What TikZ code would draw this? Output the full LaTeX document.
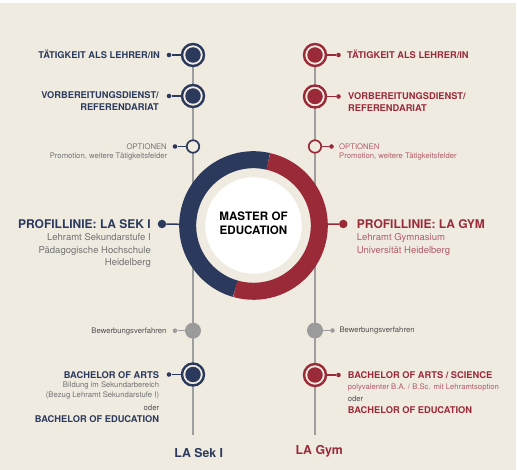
\documentclass[tikz,border=0pt]{standalone}
\usepackage{fontspec}
\setmainfont{TeX Gyre Heros}
\definecolor{beige}{RGB}{240,235,225}
\definecolor{sekblue}{RGB}{43,58,92}
\definecolor{gymred}{RGB}{155,42,57}
\definecolor{linegray}{RGB}{158,158,158}
\definecolor{dotgray}{RGB}{155,155,155}
\definecolor{textgray}{RGB}{115,115,115}
\definecolor{darkgray}{RGB}{80,80,80}
\definecolor{redlight}{RGB}{178,92,106}
\begin{document}
\begin{tikzpicture}[x=1pt,y=-1pt,
  ring/.style={circle, draw=#1, line width=2.4pt, fill=beige, minimum size=22pt, inner sep=0pt},
  core/.style={circle, fill=#1, minimum size=15.5pt, inner sep=0pt},
  opencirc/.style={circle, draw=#1, line width=1.7pt, fill=beige, minimum size=12.5pt, inner sep=0pt},
  graycirc/.style={circle, fill=dotgray, minimum size=16pt, inner sep=0pt},
  sdot/.style={circle, fill=#1, minimum size=4.6pt, inner sep=0pt},
  pdot/.style={circle, fill=#1, minimum size=8.5pt, inner sep=0pt},
  conn/.style={draw=#1, line width=1.5pt},
  vline/.style={draw=linegray, line width=1.6pt},
  ttl/.style={font=\fontsize{9.3}{11}\selectfont\bfseries, inner sep=0pt, text=#1},
  big/.style={font=\fontsize{12}{14}\selectfont\bfseries, inner sep=0pt, text=#1},
  sub/.style={font=\fontsize{9.5}{12}\selectfont, inner sep=0pt, text=#1},
  small/.style={font=\fontsize{7.7}{9}\selectfont, inner sep=0pt, text=#1},
  foot/.style={font=\fontsize{12.3}{14}\selectfont\bfseries, inner sep=0pt, text=#1, anchor=base},
  lt/.style={anchor=base east},
  rt/.style={anchor=base west}
]
\useasboundingbox (0,0) rectangle (517,470);
\fill[white] (0,0) rectangle (517,470);
\fill[beige] (0,3) rectangle (516,470);

% vertical lines
\coordinate (Ltop) at (193,55);
\coordinate (Lbot) at (193,435);
\coordinate (Rtop) at (315,55);
\coordinate (Rbot) at (315,435);
\draw[vline] (Ltop) -- (Lbot);
\draw[vline] (Rtop) -- (Rbot);

% central ring
\coordinate (C) at (253.5,225.5);
\draw[sekblue, line width=17pt] ([shift={(77:65.8pt)}]C) arc[start angle=77, end angle=254, radius=65.8pt];
\draw[gymred, line width=17pt] ([shift={(77:65.8pt)}]C) arc[start angle=77, end angle=-106, radius=65.8pt];
\node[circle, minimum size=149pt, inner sep=0pt] (R) at (C) {};
\node[circle, fill=white, minimum size=96.5pt, inner sep=0pt] (M) at (C) {};
\node[font=\fontsize{11.6}{14.7}\selectfont\bfseries, align=center, inner sep=0pt] (Mt) at (253.5,223.4) {MASTER OF\\EDUCATION};

% ---------- left column ----------
\node[ring=sekblue] (L1) at (193,55) {};
\node[core=sekblue] (L1c) at (L1) {};
\node[sdot=sekblue] (L1d) at (169,55) {};
\draw[conn=sekblue] (L1d) -- (L1);
\node[ttl=sekblue, lt] (L1t) at (160,58.5) {TÄTIGKEIT ALS LEHRER/IN};

\node[ring=sekblue] (L2) at (193,96) {};
\node[core=sekblue] (L2c) at (L2) {};
\node[sdot=sekblue] (L2d) at (169,96) {};
\draw[conn=sekblue] (L2d) -- (L2);
\node[ttl=sekblue, lt] (L2t) at (159,98.3) {VORBEREITUNGSDIENST/};
\node[ttl=sekblue, lt] (L2t2) at (159,111) {REFERENDARIAT};

\node[opencirc=sekblue] (L3) at (193,146.5) {};
\node[sdot=sekblue] (L3d) at (175,146.5) {};
\draw[conn=sekblue] (L3d) -- (L3);
\node[small=textgray, lt] (L3t) at (167,149.5) {OPTIONEN};
\node[small=textgray, lt] (L3t2) at (167.5,158.5) {Promotion, weitere Tätigkeitsfelder};

\node[pdot=sekblue] (L4d) at (162,224) {};
\draw[conn=sekblue] (L4d) -- (R);
\node[big=sekblue, lt] (L4t) at (151,228.2) {PROFILLINIE: LA SEK I};
\node[sub=textgray, lt] (L4a) at (151,240.7) {Lehramt Sekundarstufe I};
\node[sub=textgray, lt] (L4b) at (151,253.5) {Pädagogische Hochschule};
\node[sub=textgray, lt] (L4c) at (151,266) {Heidelberg};

\node[graycirc] (L5) at (193,330.7) {};
\node[sdot=dotgray] (L5d) at (175,330.7) {};
\draw[conn=dotgray] (L5d) -- (L5);
\node[small=darkgray, lt] (L5t) at (166.7,334) {Bewerbungsverfahren};

\node[ring=sekblue] (L6) at (193,374.5) {};
\node[core=sekblue] (L6c) at (L6) {};
\node[sdot=sekblue] (L6d) at (169,374.5) {};
\draw[conn=sekblue] (L6d) -- (L6);
\node[ttl=sekblue, lt] (L6t) at (159.3,378) {BACHELOR OF ARTS};
\node[small=textgray, lt] (L6a) at (159.3,387.5) {Bildung im Sekundarbereich};
\node[small=textgray, lt] (L6b) at (159.3,397.5) {(Bezug Lehramt Sekundarstufe I)};
\node[small=darkgray, lt] (L6o) at (159.3,410.5) {oder};
\node[ttl=sekblue, lt] (L6e) at (159.3,422.7) {BACHELOR OF EDUCATION};

\node[foot=sekblue] (Lf) at (198.7,457.3) {LA Sek I};

% ---------- right column ----------
\node[ring=gymred] (R1) at (315,55) {};
\node[core=gymred] (R1c) at (R1) {};
\node[sdot=gymred] (R1d) at (338.5,55) {};
\draw[conn=gymred] (R1d) -- (R1);
\node[ttl=gymred, rt] (R1t) at (347,58.5) {TÄTIGKEIT ALS LEHRER/IN};

\node[ring=gymred] (R2) at (315,96.5) {};
\node[core=gymred] (R2c) at (R2) {};
\node[sdot=gymred] (R2d) at (338.5,96.5) {};
\draw[conn=gymred] (R2d) -- (R2);
\node[ttl=gymred, rt] (R2t) at (348,99.7) {VORBEREITUNGSDIENST/};
\node[ttl=gymred, rt] (R2t2) at (348,112) {REFERENDARIAT};

\node[opencirc=gymred] (R3) at (315,146.5) {};
\node[sdot=gymred] (R3d) at (331.5,146.5) {};
\draw[conn=gymred] (R3d) -- (R3);
\node[small=redlight, rt] (R3t) at (339,149.3) {OPTIONEN};
\node[small=redlight, rt] (R3t2) at (339,158.3) {Promotion, weitere Tätigkeitsfelder};

\node[pdot=gymred] (R4d) at (343.3,224) {};
\draw[conn=gymred] (R4d) -- (R);
\node[big=gymred, rt] (R4t) at (356.7,228.3) {PROFILLINIE: LA GYM};
\node[sub=redlight, rt] (R4a) at (356.7,240.2) {Lehramt Gymnasium};
\node[sub=redlight, rt] (R4b) at (356.7,253.3) {Universität Heidelberg};

\node[graycirc] (R5) at (315,330.5) {};
\node[sdot=dotgray] (R5d) at (332.5,330.5) {};
\draw[conn=dotgray] (R5d) -- (R5);
\node[small=darkgray, rt] (R5t) at (339.3,332.9) {Bewerbungsverfahren};

\node[ring=gymred] (R6) at (315,375) {};
\node[core=gymred] (R6c) at (R6) {};
\node[sdot=gymred] (R6d) at (338.5,375) {};
\draw[conn=gymred] (R6d) -- (R6);
\node[ttl=gymred, rt] (R6t) at (347.7,378.7) {BACHELOR OF ARTS / SCIENCE};
\node[small=redlight, rt] (R6a) at (347.7,390) {polyvalenter B.A. / B.Sc. mit Lehramtsoption};
\node[small=darkgray, rt] (R6o) at (347.7,401.7) {oder};
\node[ttl=gymred, rt] (R6e) at (347.7,413.3) {BACHELOR OF EDUCATION};

\node[foot=gymred] (Rf) at (319.2,454.3) {LA Gym};
\end{tikzpicture}
\end{document}
